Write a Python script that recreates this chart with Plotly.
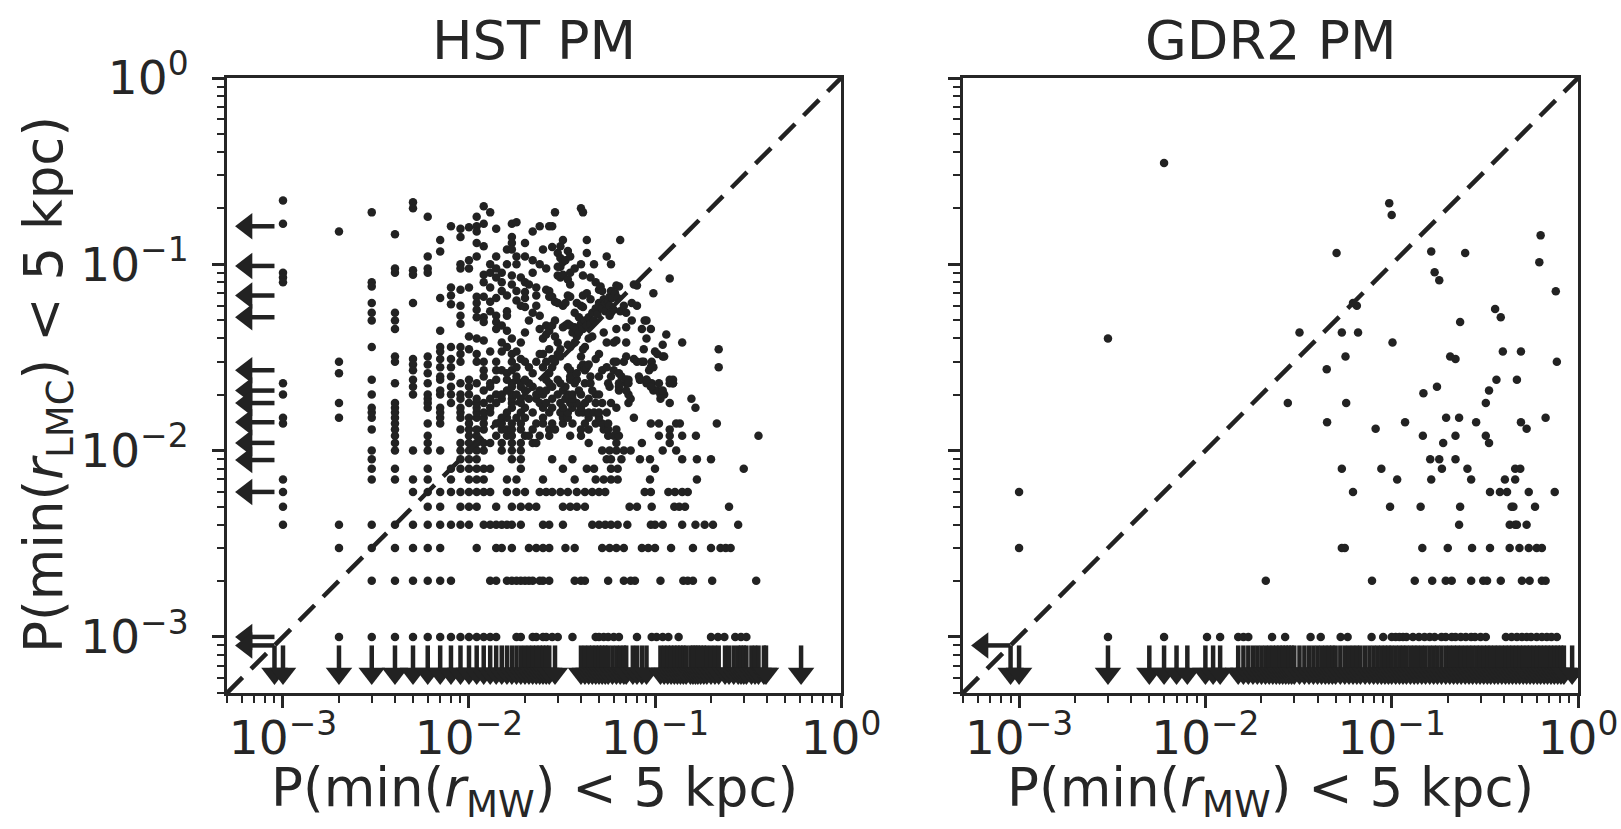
import math
import plotly.graph_objects as go

# ------------------------------------------------------------------ DATA
# HST PM panel -- lattice rows at low P(LMC): y value and x values, both in units of 1e-3
HST_ROW_Y = [1, 2, 3, 4, 5, 6, 7, 8, 9, 10, 11, 12, 13, 14, 15, 16, 17, 18, 19, 20, 21, 22, 23, 24]
HST_ROW_X = [
    [2, 3, 4, 5, 6, 7, 8, 9, 10, 11, 12, 13, 14, 18, 19, 22, 23, 25, 26, 28, 30, 36, 48, 50, 53, 56, 60, 64, 80, 96, 102, 110, 118, 134, 200, 218, 236, 270, 290, 310],
    [3, 4, 5, 6, 7, 8, 13, 14, 16, 17, 18, 19, 20, 21, 22, 24, 25, 27, 37, 40, 42, 56, 68, 74, 78, 107, 142, 150, 160, 203, 350],
    [2, 3, 4, 5, 6, 7, 11, 14, 15, 17, 21, 23, 25, 27, 33, 37, 52, 57, 62, 68, 85, 92, 100, 122, 160, 200, 225, 240, 255],
    [1, 2, 3, 4, 5, 6, 7, 8, 9, 10, 12, 13, 14, 15, 16, 17, 19, 25, 27, 32, 46, 50, 54, 58, 63, 71, 95, 100, 110, 140, 165, 185, 205, 280],
    [1, 6, 7, 9, 10, 11, 14, 17, 19, 21, 23, 32, 35, 38, 42, 73, 80, 96, 127, 135, 145, 250],
    [1, 5, 6, 7, 8, 9, 10, 11, 12, 13, 16, 18, 20, 24, 26, 28, 31, 34, 38, 42, 46, 50, 54, 88, 95, 118, 128, 140, 150],
    [1, 3, 4, 5, 6, 8, 10, 11, 12, 16, 18, 25, 37, 48, 53, 58, 63, 94, 168],
    [3, 4, 6, 8, 9, 10, 11, 12, 13, 19, 32, 43, 47, 58, 63, 100, 300],
    [3, 9, 10, 11, 17, 19, 28, 36, 55, 58, 66, 83, 94, 140, 168, 200],
    [3, 4, 5, 6, 7, 9, 10, 11, 12, 15, 17, 19, 52, 57, 62, 68, 74, 110, 130],
    [4, 6, 9, 10, 11, 12, 13, 15, 17, 19, 22, 23, 44, 62, 85, 120],
    [4, 6, 10, 11, 14, 16, 17, 20, 21, 24, 27, 35, 40, 56, 60, 64, 105, 120, 140, 166, 360],
    [3, 4, 9, 10, 11, 12, 15, 16, 17, 19, 22, 27, 29, 40, 44, 53, 56, 62, 120],
    [1, 4, 6, 7, 10, 12, 14, 15, 17, 19, 23, 25, 28, 32, 36, 42, 48, 52, 56, 95, 105, 130, 136, 215],
    [1, 2, 3, 4, 7, 9, 10, 11, 12, 15, 16, 18, 20, 25, 32, 34, 44, 50, 77],
    [3, 4, 7, 9, 11, 12, 13, 16, 19, 22, 27, 31, 34, 39, 41, 44, 47, 50, 55],
    [3, 4, 6, 7, 9, 11, 13, 17, 20, 25, 28, 32, 36, 40, 62, 165],
    [2, 4, 6, 8, 10, 11, 12, 14, 17, 19, 24, 26, 31, 35, 38, 42, 48, 52, 58, 72, 120],
    [6, 9, 11, 13, 15, 17, 19, 21, 23, 28, 33, 36, 44, 74, 107, 157],
    [1, 3, 5, 6, 7, 8, 9, 10, 14, 15, 17, 18, 23, 25, 30, 34, 36, 40, 48, 50, 72, 107, 112],
    [7, 12, 16, 20, 24, 26, 32, 39, 46, 64, 70, 98, 103, 110],
    [5, 8, 10, 13, 17, 19, 22, 28, 33, 57, 64, 96],
    [1, 4, 6, 9, 11, 13, 17, 19, 21, 27, 31, 37, 42, 45, 56, 64, 70, 90, 96, 105, 120, 125],
    [3, 5, 7, 10, 14, 16, 18, 20, 26, 30, 35, 38, 70, 72, 83, 90, 125],
]

# HST PM panel -- remaining sources (x, y) with P(LMC) >= 0.025
HST_CLOUD = [
    (0.001, 0.22), (0.001, 0.165), (0.001, 0.09), (0.001, 0.085), (0.001, 0.08),
    (0.002, 0.15), (0.002, 0.030), (0.002, 0.026),
    (0.003, 0.19), (0.003, 0.08), (0.003, 0.076), (0.003, 0.062), (0.003, 0.055), (0.003, 0.050), (0.003, 0.036),
    (0.004, 0.145), (0.004, 0.095), (0.004, 0.09), (0.004, 0.055), (0.004, 0.050), (0.004, 0.045), (0.004, 0.032), (0.004, 0.030),
    (0.005, 0.215), (0.005, 0.2), (0.005, 0.093), (0.005, 0.088), (0.005, 0.062), (0.005, 0.031), (0.005, 0.029), (0.005, 0.027),
    (0.006, 0.18), (0.006, 0.11), (0.006, 0.095), (0.006, 0.09), (0.006, 0.032), (0.006, 0.029), (0.006, 0.026),
    (0.007, 0.135), (0.007, 0.117), (0.007, 0.066), (0.007, 0.044), (0.007, 0.036), (0.007, 0.034), (0.007, 0.031),
    (0.007, 0.028), (0.007, 0.025),
    (0.008, 0.16), (0.008, 0.075), (0.008, 0.068), (0.008, 0.061), (0.008, 0.036), (0.008, 0.031), (0.008, 0.028), (0.008, 0.025),
    (0.009, 0.155), (0.009, 0.14), (0.009, 0.1), (0.009, 0.095), (0.009, 0.073), (0.009, 0.06), (0.009, 0.053), (0.009, 0.048),
    (0.009, 0.036), (0.009, 0.033), (0.009, 0.030),
    (0.010, 0.158), (0.010, 0.105), (0.010, 0.095), (0.010, 0.075), (0.010, 0.041), (0.010, 0.035),
    (0.011, 0.18), (0.011, 0.16), (0.011, 0.15), (0.011, 0.13), (0.011, 0.11), (0.011, 0.067), (0.011, 0.062), (0.011, 0.057),
    (0.011, 0.052), (0.011, 0.040), (0.011, 0.033), (0.011, 0.030),
    (0.012, 0.205), (0.012, 0.165), (0.012, 0.125), (0.012, 0.088), (0.012, 0.08), (0.012, 0.067), (0.012, 0.052), (0.012, 0.049),
    (0.012, 0.039), (0.012, 0.030), (0.012, 0.027), (0.012, 0.025),
    (0.013, 0.19), (0.013, 0.1), (0.013, 0.09), (0.013, 0.075), (0.013, 0.063), (0.013, 0.056), (0.013, 0.034),
    (0.014, 0.155), (0.014, 0.11), (0.014, 0.095), (0.014, 0.085), (0.014, 0.066), (0.014, 0.053), (0.014, 0.049),
    (0.014, 0.045), (0.014, 0.030), (0.014, 0.027),
    (0.015, 0.09), (0.015, 0.08), (0.015, 0.072), (0.015, 0.047), (0.015, 0.038), (0.015, 0.034), (0.015, 0.027),
    (0.016, 0.12), (0.016, 0.1), (0.016, 0.068), (0.016, 0.056), (0.016, 0.053), (0.016, 0.044), (0.016, 0.036), (0.016, 0.026),
    (0.017, 0.165), (0.017, 0.14), (0.017, 0.13), (0.017, 0.12), (0.017, 0.087), (0.017, 0.078), (0.017, 0.040),
    (0.017, 0.033), (0.017, 0.030), (0.017, 0.027),
    (0.018, 0.168), (0.018, 0.11), (0.018, 0.1), (0.018, 0.072), (0.018, 0.064), (0.018, 0.034), (0.018, 0.028), (0.018, 0.025),
    (0.019, 0.085), (0.019, 0.06), (0.019, 0.038), (0.019, 0.031),
    (0.020, 0.13), (0.020, 0.11), (0.020, 0.08), (0.020, 0.071), (0.020, 0.066), (0.020, 0.059), (0.020, 0.043), (0.020, 0.030),
    (0.021, 0.078), (0.021, 0.05), (0.021, 0.028),
    (0.022, 0.15), (0.022, 0.105), (0.022, 0.09), (0.022, 0.055), (0.022, 0.026),
    (0.023, 0.075), (0.023, 0.068), (0.023, 0.06), (0.023, 0.03),
    (0.024, 0.16), (0.024, 0.1), (0.024, 0.053), (0.024, 0.045), (0.024, 0.033),
    (0.025, 0.12), (0.025, 0.04), (0.025, 0.033), (0.025, 0.028),
    (0.026, 0.095), (0.026, 0.073), (0.026, 0.047), (0.026, 0.042), (0.026, 0.03),
    (0.027, 0.16), (0.027, 0.072), (0.027, 0.067), (0.027, 0.044), (0.027, 0.035), (0.027, 0.026),
    (0.028, 0.16), (0.028, 0.124), (0.028, 0.067), (0.028, 0.047), (0.028, 0.031), (0.028, 0.028),
    (0.029, 0.19), (0.029, 0.063), (0.029, 0.05), (0.029, 0.041), (0.029, 0.030),
    (0.030, 0.115), (0.030, 0.097), (0.030, 0.087), (0.030, 0.062), (0.030, 0.038), (0.030, 0.033),
    (0.031, 0.125), (0.031, 0.108), (0.031, 0.097), (0.031, 0.085), (0.031, 0.035), (0.031, 0.032),
    (0.032, 0.135), (0.032, 0.103), (0.032, 0.088), (0.032, 0.06), (0.032, 0.046),
    (0.033, 0.105), (0.033, 0.062), (0.033, 0.047),
    (0.034, 0.118), (0.034, 0.083), (0.034, 0.068), (0.034, 0.048), (0.034, 0.037), (0.034, 0.028),
    (0.035, 0.11), (0.035, 0.09), (0.035, 0.078), (0.035, 0.067), (0.035, 0.047), (0.035, 0.036), (0.035, 0.027), (0.035, 0.025),
    (0.036, 0.043), (0.037, 0.095), (0.037, 0.055), (0.037, 0.046), (0.037, 0.038),
    (0.038, 0.062), (0.038, 0.045), (0.038, 0.041), (0.038, 0.026), (0.039, 0.052), (0.039, 0.043),
    (0.040, 0.2), (0.040, 0.1), (0.040, 0.06), (0.040, 0.048), (0.040, 0.032), (0.040, 0.028),
    (0.041, 0.19), (0.041, 0.087), (0.041, 0.068), (0.041, 0.059), (0.041, 0.045), (0.041, 0.035), (0.041, 0.029),
    (0.042, 0.05), (0.042, 0.036), (0.042, 0.027),
    (0.043, 0.135), (0.043, 0.115), (0.043, 0.07), (0.043, 0.047), (0.043, 0.028),
    (0.044, 0.052), (0.044, 0.04), (0.044, 0.029),
    (0.045, 0.085), (0.045, 0.065), (0.045, 0.048), (0.045, 0.025), (0.046, 0.055), (0.046, 0.041),
    (0.047, 0.1), (0.047, 0.05), (0.048, 0.08), (0.048, 0.058), (0.048, 0.031), (0.049, 0.054),
    (0.050, 0.073), (0.050, 0.062), (0.050, 0.06), (0.050, 0.033), (0.050, 0.025), (0.051, 0.076),
    (0.052, 0.072), (0.052, 0.058), (0.052, 0.027), (0.053, 0.065), (0.053, 0.043),
    (0.054, 0.062), (0.054, 0.056), (0.055, 0.11), (0.055, 0.038), (0.055, 0.028),
    (0.056, 0.063), (0.057, 0.067), (0.057, 0.06), (0.057, 0.053),
    (0.058, 0.1), (0.058, 0.072), (0.058, 0.055), (0.058, 0.025), (0.059, 0.066),
    (0.060, 0.057), (0.060, 0.038), (0.060, 0.03), (0.060, 0.027), (0.061, 0.07),
    (0.062, 0.077), (0.062, 0.045), (0.062, 0.039), (0.062, 0.03), (0.063, 0.066),
    (0.064, 0.076), (0.064, 0.026), (0.065, 0.135), (0.065, 0.056), (0.066, 0.025),
    (0.068, 0.06), (0.068, 0.03),
    (0.070, 0.055), (0.070, 0.046), (0.070, 0.038), (0.070, 0.032), (0.070, 0.024), (0.072, 0.023),
    (0.075, 0.062), (0.075, 0.05),
    (0.077, 0.078), (0.077, 0.031), (0.080, 0.077), (0.080, 0.06), (0.080, 0.03),
    (0.082, 0.025), (0.083, 0.024), (0.085, 0.045), (0.085, 0.03), (0.087, 0.035), (0.087, 0.03),
    (0.088, 0.05), (0.090, 0.05), (0.090, 0.04), (0.090, 0.024), (0.093, 0.027),
    (0.095, 0.045), (0.095, 0.028), (0.095, 0.022), (0.096, 0.03),
    (0.098, 0.07), (0.098, 0.028), (0.100, 0.034), (0.103, 0.033),
    (0.110, 0.037), (0.110, 0.032), (0.112, 0.032), (0.115, 0.042),
    (0.120, 0.084), (0.120, 0.024), (0.125, 0.023), (0.140, 0.038),
    (0.220, 0.035), (0.220, 0.028),
]

# HST PM panel -- sources with P(MW) = 0 (values are their P(LMC)); 0 = both zero
HST_XZERO_Y = [0.16, 0.098, 0.068, 0.052, 0.027, 0.021, 0.018, 0.0142, 0.011, 0.0089, 0.006, 0.001, 0.0]
# HST PM panel -- sources with P(LMC) = 0 (values are their P(MW), units of 1e-3); 0 = both zero
HST_YZERO_X = [0, 1, 2, 3, 4, 5, 6, 7, 8, 9, 10, 11, 12, 13, 14, 15, 16, 17, 18, 19, 20, 21, 22, 23, 24, 25, 26, 27, 29,
               40, 42, 44, 46, 48, 50, 52, 54, 56, 59, 62, 65, 68, 70, 76, 80, 85, 90,
               107, 112, 117, 122, 127, 132, 137, 142, 147, 155, 160, 165, 170, 176, 183, 190, 200, 210, 220,
               238, 250, 265, 280, 290, 300, 310, 330, 345, 360, 385, 395, 610]

# GDR2 PM panel -- lattice rows (units of 1e-3)
GDR2_ROW_Y = [1, 2, 3, 4, 5, 6, 7, 8, 9]
GDR2_ROW_X = [
    [3, 6, 10.2, 12, 15, 16, 17, 22.8, 26.8, 36.7, 41.6, 53.2, 58, 78, 90, 100, 105, 110, 115, 120, 130, 140, 150, 160,
     170, 185, 195, 210, 220, 235, 250, 267, 280, 300, 320, 410, 440, 470, 500, 530, 560, 600, 640, 680, 720, 770],
    [21.1, 78.4, 133, 165, 195, 210, 267, 310, 325, 385, 500, 550, 640, 670],
    [1, 54, 56, 146, 200, 270, 337, 430, 485, 544, 600, 640],
    [230, 430, 460, 470, 530],
    [98, 143, 233, 440, 450, 588],
    [1, 62, 337, 381, 416, 544, 750],
    [107, 163, 267, 405, 460],
    [54, 88, 186, 255, 460, 490],
    [161, 180, 220],
]
GDR2_CLOUD = [
    (0.006, 0.35), (0.003, 0.040), (0.097, 0.213), (0.100, 0.184), (0.0506, 0.115), (0.163, 0.117), (0.248, 0.115),
    (0.63, 0.143), (0.62, 0.1025), (0.17, 0.0906), (0.18, 0.082), (0.76, 0.0716), (0.062, 0.062), (0.065, 0.060),
    (0.359, 0.0575), (0.385, 0.052), (0.233, 0.049), (0.032, 0.043), (0.054, 0.043), (0.066, 0.043), (0.101, 0.038),
    (0.0565, 0.032), (0.206, 0.032), (0.22, 0.031), (0.395, 0.034), (0.494, 0.034), (0.77, 0.030), (0.0448, 0.0273),
    (0.175, 0.022), (0.148, 0.0203), (0.365, 0.024), (0.47, 0.024), (0.333, 0.021), (0.32, 0.018), (0.0277, 0.018),
    (0.057, 0.018), (0.045, 0.0142), (0.082, 0.0131), (0.118, 0.0142), (0.147, 0.012), (0.189, 0.011), (0.196, 0.015),
    (0.23, 0.015), (0.22, 0.012), (0.284, 0.0142), (0.32, 0.012), (0.333, 0.011), (0.494, 0.0142), (0.53, 0.0131),
    (0.67, 0.015),
]
GDR2_XZERO_Y = [0.0]
GDR2_YZERO_X = [0, 1, 3, 5, 6, 7, 8, 10, 11, 12,
                15, 16, 17, 18, 19, 20, 21, 22, 23, 24, 25, 26, 27, 28, 29, 30, 32, 34, 36, 38, 40, 42, 44, 46, 48,
                50, 53, 56, 59, 62, 65, 68, 72, 76, 80, 84, 88, 92, 96, 100, 105, 110, 115, 120, 126, 132, 138, 145,
                152, 160, 168, 176, 185, 195, 205, 215, 225, 236, 248, 260, 272, 285, 298, 312, 326, 340, 356, 372,
                390, 408, 426, 445, 465, 486, 508, 530, 553, 578, 604, 630, 658, 686, 716, 746, 778, 810, 840, 930]

ONE_TO_ONE = [5e-4, 1.0]
TICK_VALS = [1e-3, 1e-2, 1e-1, 1.0]
TICK_TEXT = ["10<sup>\u22123</sup>", "10<sup>\u22122</sup>", "10<sup>\u22121</sup>", "10<sup>0</sup>"]
PANEL_TITLES = ["HST PM", "GDR2 PM"]

# ------------------------------------------------------------------ STYLE
W, H = 1621, 829
INK = "#222222"
TXT = "#262626"
FONT = "DejaVu Sans"
FLOOR = 9e-4          # where zero probabilities are drawn
HEAD_BASE = 6.8e-4    # arrow stem end
HEAD_CENTER = 6.37e-4 # arrow head marker centre
LOG_LO = math.log10(5e-4)


def collect(row_y, row_x, cloud):
    xs, ys = [], []
    for yv, xl in zip(row_y, row_x):
        for xv in xl:
            xs.append(xv * 1e-3)
            ys.append(yv * 1e-3)
    for xv, yv in cloud:
        xs.append(xv)
        ys.append(yv)
    return xs, ys


def arrow_traces(xzero_y, yzero_x_milli, xa, ya):
    out = []
    dx = [v * 1e-3 if v > 0 else FLOOR for v in yzero_x_milli]
    sx, sy = [], []
    for v in dx:
        sx += [v, v, None]
        sy += [FLOOR, HEAD_BASE, None]
    out.append(go.Scatter(x=sx, y=sy, mode="lines", line=dict(color=INK, width=4.5),
                          xaxis=xa, yaxis=ya, hoverinfo="skip", showlegend=False))
    out.append(go.Scatter(x=dx, y=[HEAD_CENTER] * len(dx), mode="markers",
                          marker=dict(symbol="triangle-down", size=23, color=INK, line=dict(width=0)),
                          xaxis=xa, yaxis=ya, hoverinfo="skip", showlegend=False))
    ly = [v if v > 0 else FLOOR for v in xzero_y]
    sx, sy = [], []
    for v in ly:
        sx += [FLOOR, HEAD_BASE, None]
        sy += [v, v, None]
    out.append(go.Scatter(x=sx, y=sy, mode="lines", line=dict(color=INK, width=4.5),
                          xaxis=xa, yaxis=ya, hoverinfo="skip", showlegend=False))
    out.append(go.Scatter(x=[HEAD_CENTER] * len(ly), y=ly, mode="markers",
                          marker=dict(symbol="triangle-left", size=23, color=INK, line=dict(width=0)),
                          xaxis=xa, yaxis=ya, hoverinfo="skip", showlegend=False))
    return out


fig = go.Figure()
panels = [
    (HST_ROW_Y, HST_ROW_X, HST_CLOUD, HST_XZERO_Y, HST_YZERO_X, "x", "y"),
    (GDR2_ROW_Y, GDR2_ROW_X, GDR2_CLOUD, GDR2_XZERO_Y, GDR2_YZERO_X, "x2", "y2"),
]
for ry, rx, cl, xz, yz, xa, ya in panels:
    px, py = collect(ry, rx, cl)
    fig.add_trace(go.Scatter(x=px, y=py, mode="markers",
                             marker=dict(size=8.5, color=INK, line=dict(width=0)),
                             xaxis=xa, yaxis=ya, showlegend=False))
    for t in arrow_traces(xz, yz, xa, ya):
        fig.add_trace(t)
    fig.add_trace(go.Scatter(x=ONE_TO_ONE, y=ONE_TO_ONE, mode="lines",
                             line=dict(color=INK, width=4.5, dash="22px,12px"),
                             xaxis=xa, yaxis=ya, hoverinfo="skip", showlegend=False))

minor_vals = [m * 10.0 ** e for e in (-4, -3, -2, -1) for m in range(2, 10) if 5e-4 <= m * 10.0 ** e < 1]

px_l, px_r = [227, 963], [841, 1578]
y_dom = [1 - 693 / H, 1 - 78 / H]


def axis_common(showlabels=True, standoff=4):
    return dict(type="log", range=[LOG_LO, 0], showgrid=False, zeroline=False, automargin=False,
                showline=True, linecolor=TXT, linewidth=3, mirror=True,
                ticks="outside", ticklen=12, tickwidth=3, tickcolor=TXT,
                tickmode="array", tickvals=TICK_VALS, ticktext=TICK_TEXT,
                showticklabels=showlabels, ticklabelstandoff=standoff,
                tickfont=dict(family=FONT, size=47, color=TXT),
                minor=dict(ticks="outside", ticklen=7, tickwidth=2, tickcolor=TXT,
                           tickmode="array", tickvals=minor_vals, showgrid=False))


fig.update_layout(
    width=W, height=H, margin=dict(l=0, r=0, t=0, b=0, autoexpand=False),
    paper_bgcolor="white", plot_bgcolor="white",
    xaxis=dict(domain=[px_l[0] / W, px_r[0] / W], anchor="y", **axis_common(True, -10)),
    yaxis=dict(domain=y_dom, anchor="x", **axis_common(True, 14)),
    xaxis2=dict(domain=[px_l[1] / W, px_r[1] / W], anchor="y2", **axis_common(True, -10)),
    yaxis2=dict(domain=y_dom, anchor="x2", **axis_common(False)),
)

ann = []
for i, t in enumerate(PANEL_TITLES):
    cx = (px_l[i] + px_r[i]) / 2 / W
    ann.append(dict(text=t, x=cx, y=1 - 41 / H, xref="paper", yref="paper", showarrow=False,
                    xanchor="center", yanchor="middle", font=dict(family=FONT, size=54, color=TXT)))
    ann.append(dict(text="P(min(<i>r</i><sub>MW</sub>) &lt; 5 kpc)", x=cx, y=1 - 791 / H,
                    xref="paper", yref="paper", showarrow=False, xanchor="center", yanchor="middle",
                    font=dict(family=FONT, size=53, color=TXT)))
ann.append(dict(text="P(min(<i>r</i><sub>LMC</sub>) &lt; 5 kpc)", x=47 / W, y=1 - 385 / H,
                xref="paper", yref="paper", showarrow=False, xanchor="center", yanchor="middle",
                textangle=-90, font=dict(family=FONT, size=53, color=TXT)))
fig.update_layout(annotations=ann)

fig.write_html("out.html")
